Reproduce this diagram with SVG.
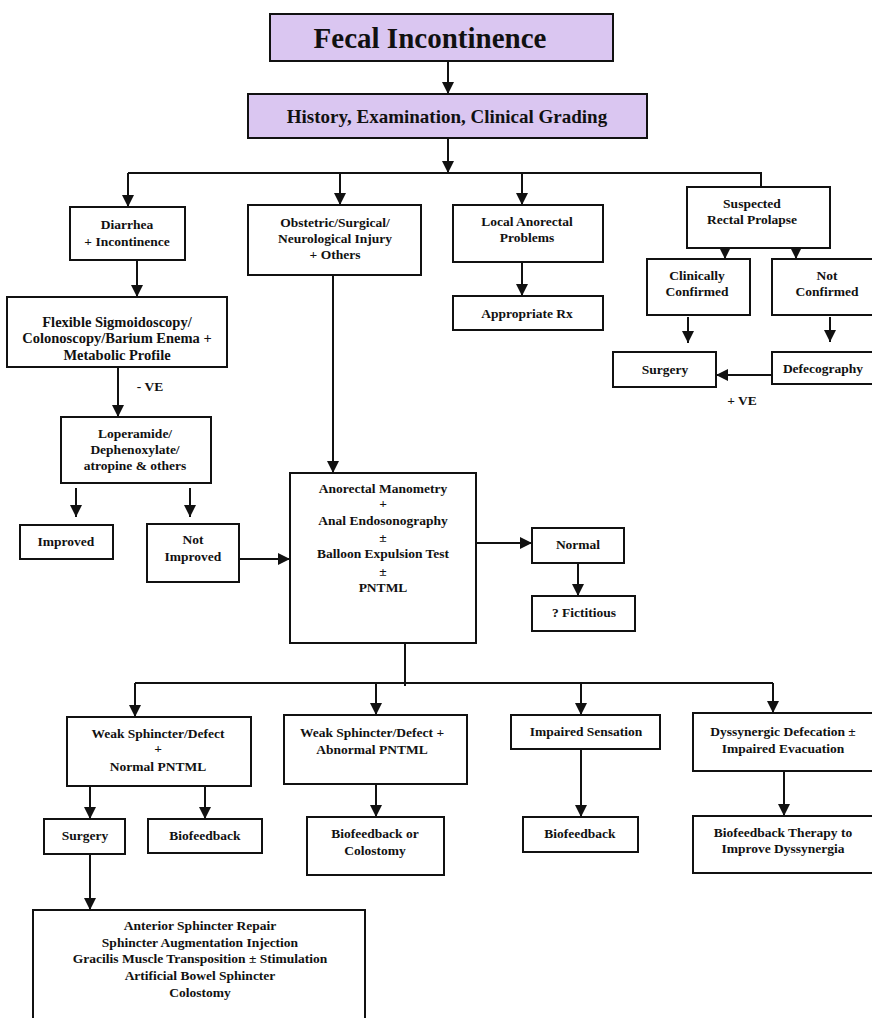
<svg xmlns="http://www.w3.org/2000/svg" width="872" height="1018" viewBox="0 0 872 1018">
<defs>
<style>
.b{fill:#fff;stroke:#111;stroke-width:2}
.p{fill:#dac6f1;stroke:#111;stroke-width:2}
text{font-family:"Liberation Serif","Times New Roman",serif;font-weight:bold;font-size:13.5px;fill:#111;text-anchor:middle;dominant-baseline:central}
.c line,.c path{stroke:#111;stroke-width:2;fill:none}
</style>
<marker id="ah" viewBox="0 0 10 10" refX="10" refY="5" markerWidth="12" markerHeight="12" markerUnits="userSpaceOnUse" orient="auto"><path d="M0,0 L10,5 L0,10 z" fill="#111"/></marker>
</defs>
<rect width="872" height="1018" fill="#fff"/>
<g class="c">
<line x1="448" y1="61" x2="448" y2="94" marker-end="url(#ah)"/>
<line x1="448" y1="138" x2="448" y2="173" marker-end="url(#ah)"/>
<path d="M128,173 H761 V187"/>
<line x1="128" y1="173" x2="128" y2="207" marker-end="url(#ah)"/>
<line x1="340" y1="173" x2="340" y2="205" marker-end="url(#ah)"/>
<line x1="522" y1="173" x2="522" y2="205" marker-end="url(#ah)"/>
<line x1="137" y1="260" x2="137" y2="297" marker-end="url(#ah)"/>
<line x1="118" y1="367" x2="118" y2="417" marker-end="url(#ah)"/>
<line x1="76" y1="488" x2="76" y2="517" marker-end="url(#ah)"/>
<line x1="190" y1="488" x2="190" y2="517" marker-end="url(#ah)"/>
<line x1="233" y1="559" x2="290" y2="559" marker-end="url(#ah)"/>
<line x1="333" y1="275" x2="333" y2="473" marker-end="url(#ah)"/>
<line x1="476" y1="543" x2="532" y2="543" marker-end="url(#ah)"/>
<line x1="578" y1="563" x2="578" y2="596" marker-end="url(#ah)"/>
<line x1="405" y1="643" x2="405" y2="686"/>
<line x1="135" y1="683" x2="773" y2="683"/>
<line x1="135" y1="683" x2="135" y2="717" marker-end="url(#ah)"/>
<line x1="376" y1="683" x2="376" y2="715" marker-end="url(#ah)"/>
<line x1="581" y1="683" x2="581" y2="715" marker-end="url(#ah)"/>
<line x1="773" y1="683" x2="773" y2="713" marker-end="url(#ah)"/>
<line x1="90" y1="786" x2="90" y2="819" marker-end="url(#ah)"/>
<line x1="205" y1="786" x2="205" y2="819" marker-end="url(#ah)"/>
<line x1="376" y1="784" x2="376" y2="817" marker-end="url(#ah)"/>
<line x1="581" y1="749" x2="581" y2="817" marker-end="url(#ah)"/>
<line x1="784" y1="771" x2="784" y2="816" marker-end="url(#ah)"/>
<line x1="90" y1="854" x2="90" y2="910" marker-end="url(#ah)"/>
<line x1="522" y1="262" x2="522" y2="296" marker-end="url(#ah)"/>
<line x1="725" y1="248" x2="725" y2="259" marker-end="url(#ah)"/>
<line x1="796" y1="248" x2="796" y2="259" marker-end="url(#ah)"/>
<line x1="688" y1="317" x2="688" y2="343" marker-end="url(#ah)"/>
<line x1="830" y1="317" x2="830" y2="342" marker-end="url(#ah)"/>
<line x1="772" y1="375" x2="716" y2="375" marker-end="url(#ah)"/>
<text x="150" y="386">- VE</text>
<text x="742" y="400">+ VE</text>
</g>
<g id="title"><rect class="p" x="270" y="14" width="343" height="47"/><text x="430" y="38" style="font-size:29px">Fecal Incontinence</text></g>
<g id="history"><rect class="p" x="248" y="94" width="399" height="44"/><text x="447" y="116" style="font-size:19px">History, Examination, Clinical Grading</text></g>
<g id="diarrhea"><rect class="b" x="70" y="207" width="115" height="53"/><text x="127" y="224">Diarrhea</text><text x="127" y="241">+ Incontinence</text></g>
<g id="obstetric"><rect class="b" x="248" y="205" width="173" height="70"/><text x="335" y="222">Obstetric/Surgical/</text><text x="335" y="238">Neurological Injury</text><text x="335" y="254">+ Others</text></g>
<g id="local"><rect class="b" x="453" y="205" width="150" height="57"/><text x="527" y="221">Local Anorectal</text><text x="527" y="237">Problems</text></g>
<g id="prolapse"><rect class="b" x="687" y="187" width="143" height="61"/><text x="752" y="203">Suspected</text><text x="752" y="219">Rectal Prolapse</text></g>
<g id="rx"><rect class="b" x="453" y="296" width="150" height="34"/><text x="527" y="313">Appropriate Rx</text></g>
<g id="clinically"><rect class="b" x="647" y="259" width="103" height="56"/><text x="697" y="275">Clinically</text><text x="697" y="291">Confirmed</text></g>
<g id="notconfirmed"><rect class="b" x="772" y="259" width="110" height="56"/><text x="827" y="275">Not</text><text x="827" y="291">Confirmed</text></g>
<g id="surgery1"><rect class="b" x="613" y="352" width="103" height="35"/><text x="665" y="369">Surgery</text></g>
<g id="defeco"><rect class="b" x="772" y="352" width="110" height="32"/><text x="823" y="368">Defecography</text></g>
<g id="flexible" style="font-size:14.5px"><rect class="b" x="7" y="297" width="220" height="70"/><text x="117" y="322" style="font-size:14.5px">Flexible Sigmoidoscopy/</text><text x="117" y="338" style="font-size:14.5px">Colonoscopy/Barium Enema +</text><text x="117" y="355" style="font-size:14.5px">Metabolic Profile</text></g>
<g id="loperamide"><rect class="b" x="61" y="417" width="150" height="66"/><text x="135" y="433">Loperamide/</text><text x="135" y="449">Dephenoxylate/</text><text x="135" y="465">atropine &amp; others</text></g>
<g id="improved"><rect class="b" x="20" y="525" width="93" height="34"/><text x="66" y="541">Improved</text></g>
<g id="notimproved"><rect class="b" x="147" y="524" width="92" height="58"/><text x="193" y="539">Not</text><text x="193" y="556">Improved</text></g>
<g id="anorectal"><rect class="b" x="290" y="473" width="186" height="170"/><text x="383" y="488">Anorectal Manometry</text><text x="383" y="503">+</text><text x="383" y="520">Anal Endosonography</text><text x="383" y="537">±</text><text x="383" y="553">Balloon Expulsion Test</text><text x="383" y="571">±</text><text x="383" y="587">PNTML</text></g>
<g id="normal"><rect class="b" x="532" y="528" width="92" height="35"/><text x="578" y="544">Normal</text></g>
<g id="fictitious"><rect class="b" x="532" y="596" width="103" height="35"/><text x="584" y="612">? Fictitious</text></g>
<g id="weaknormal"><rect class="b" x="67" y="717" width="184" height="69"/><text x="158" y="733">Weak Sphincter/Defect</text><text x="158" y="748">+</text><text x="158" y="766">Normal PNTML</text></g>
<g id="weakabnormal"><rect class="b" x="284" y="715" width="183" height="69"/><text x="372" y="732">Weak Sphincter/Defect +</text><text x="372" y="749">Abnormal PNTML</text></g>
<g id="impaired"><rect class="b" x="511" y="715" width="149" height="34"/><text x="586" y="731">Impaired Sensation</text></g>
<g id="dyssynergic"><rect class="b" x="693" y="713" width="190" height="58"/><text x="783" y="731">Dyssynergic Defecation ±</text><text x="783" y="748">Impaired Evacuation</text></g>
<g id="surgery2"><rect class="b" x="44" y="819" width="81" height="35"/><text x="85" y="835">Surgery</text></g>
<g id="bio1"><rect class="b" x="148" y="819" width="114" height="34"/><text x="205" y="835">Biofeedback</text></g>
<g id="biocolostomy"><rect class="b" x="307" y="817" width="137" height="58"/><text x="375" y="833">Biofeedback or</text><text x="375" y="850">Colostomy</text></g>
<g id="bio2"><rect class="b" x="523" y="817" width="115" height="35"/><text x="580" y="833">Biofeedback</text></g>
<g id="biotherapy"><rect class="b" x="693" y="816" width="190" height="57"/><text x="783" y="832">Biofeedback Therapy to</text><text x="783" y="848">Improve Dyssynergia</text></g>
<g id="surgeryoptions"><rect class="b" x="33" y="910" width="332" height="120"/><text x="200" y="925">Anterior Sphincter Repair</text><text x="200" y="942">Sphincter Augmentation Injection</text><text x="200" y="958">Gracilis Muscle Transposition ± Stimulation</text><text x="200" y="975">Artificial Bowel Sphincter</text><text x="200" y="992">Colostomy</text></g>
</svg>
